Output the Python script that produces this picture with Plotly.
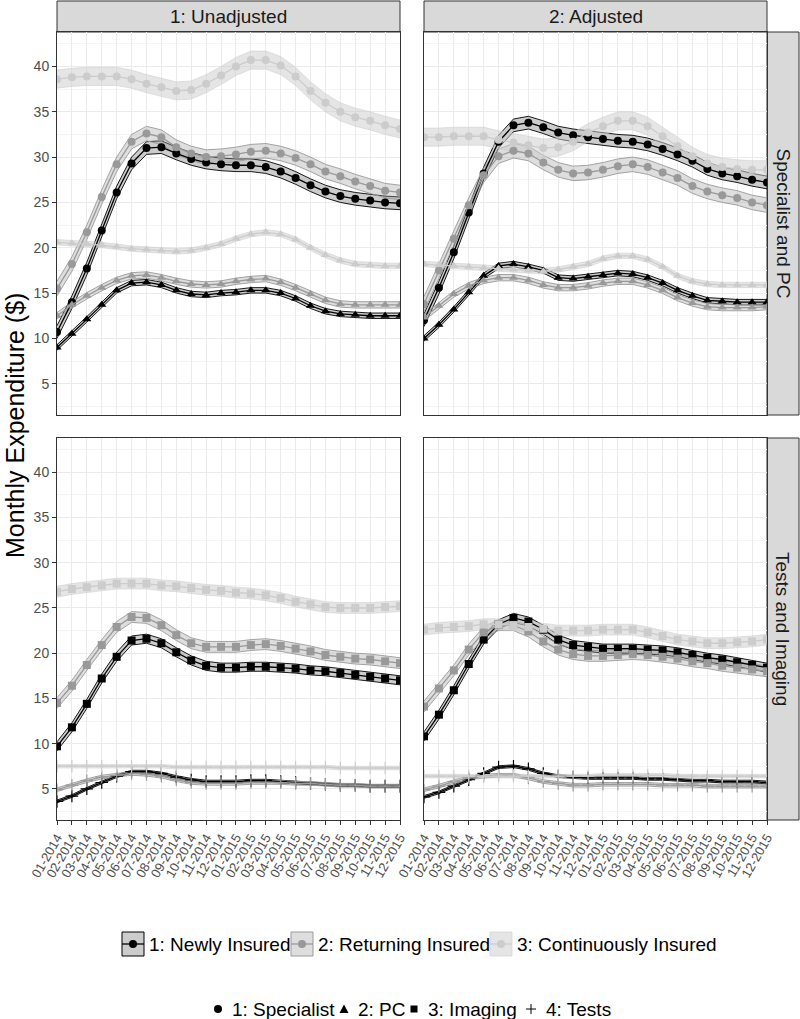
import plotly.graph_objects as go

W, H = 800, 1019

months = ["01-2014", "02-2014", "03-2014", "04-2014", "05-2014", "06-2014",
          "07-2014", "08-2014", "09-2014", "10-2014", "11-2014", "12-2014",
          "01-2015", "02-2015", "03-2015", "04-2015", "05-2015", "06-2015",
          "07-2015", "08-2015", "09-2015", "10-2015", "11-2015", "12-2015"]

groups = ["1: Newly Insured", "2: Returning Insured", "3: Continuously Insured"]
types = ["1: Specialist", "2: PC", "3: Imaging", "4: Tests"]
col_labels = ["1: Unadjusted", "2: Adjusted"]
row_labels = ["Specialist and PC", "Tests and Imaging"]

# ---------------- Unadjusted: Specialist / PC ----------------
unadj_spec_new = [10.7, 14.0, 17.7, 21.9, 26.1, 29.3, 31.0, 31.1, 30.4, 29.8, 29.4, 29.2,
                  29.1, 29.1, 28.9, 28.4, 27.7, 26.9, 26.2, 25.7, 25.4, 25.2, 25.0, 24.9]
unadj_spec_ret = [15.5, 18.2, 21.7, 25.6, 29.2, 31.7, 32.6, 32.2, 31.1, 30.4, 30.0, 30.1,
                  30.3, 30.6, 30.7, 30.4, 29.9, 29.2, 28.4, 27.9, 27.3, 26.8, 26.3, 26.1]
unadj_spec_cont = [38.6, 38.8, 38.9, 38.9, 38.9, 38.6, 38.1, 37.7, 37.3, 37.4, 38.1, 39.0,
                   40.0, 40.7, 40.7, 40.1, 38.9, 37.3, 36.0, 35.0, 34.4, 34.0, 33.5, 33.1]
unadj_pc_new = [9.0, 10.5, 12.1, 13.7, 15.3, 16.1, 16.2, 15.9, 15.3, 14.9, 14.8, 15.0,
                15.1, 15.3, 15.3, 15.0, 14.4, 13.6, 13.0, 12.7, 12.6, 12.5, 12.5, 12.5]
unadj_pc_ret = [12.5, 13.7, 14.7, 15.6, 16.4, 16.9, 17.0, 16.7, 16.3, 16.0, 15.9, 16.0,
                16.3, 16.5, 16.6, 16.2, 15.6, 14.9, 14.2, 13.8, 13.7, 13.7, 13.7, 13.7]
unadj_pc_cont = [20.6, 20.5, 20.4, 20.3, 20.1, 19.9, 19.8, 19.7, 19.6, 19.7, 20.0, 20.4,
                 21.0, 21.5, 21.7, 21.5, 20.9, 20.0, 19.2, 18.6, 18.2, 18.1, 18.0, 18.0]

# ---------------- Adjusted: Specialist / PC ----------------
adj_spec_new = [12.0, 15.6, 19.5, 23.9, 28.2, 31.7, 33.5, 33.8, 33.3, 32.7, 32.4, 32.2,
                32.0, 31.8, 31.7, 31.4, 30.9, 30.3, 29.6, 28.7, 28.2, 27.9, 27.5, 27.2]
adj_spec_ret = [13.8, 17.5, 21.0, 24.7, 28.0, 30.1, 30.7, 30.4, 29.4, 28.6, 28.2, 28.3,
                28.6, 29.0, 29.2, 28.9, 28.3, 27.7, 26.8, 26.2, 25.8, 25.5, 25.0, 24.7]
adj_spec_cont = [32.2, 32.2, 32.3, 32.3, 32.3, 31.9, 31.6, 31.3, 31.0, 31.1, 31.7, 32.7,
                 33.4, 34.0, 34.0, 33.4, 32.3, 31.2, 30.1, 29.3, 28.9, 28.7, 28.6, 28.6]
adj_pc_new = [10.0, 11.5, 13.2, 15.1, 16.9, 18.0, 18.2, 17.9, 17.5, 16.7, 16.6, 16.8,
              17.0, 17.2, 17.1, 16.7, 16.1, 15.3, 14.7, 14.2, 14.1, 14.0, 14.0, 14.0]
adj_pc_ret = [12.3, 13.6, 14.9, 15.8, 16.4, 16.7, 16.7, 16.4, 15.9, 15.6, 15.6, 15.8,
              16.1, 16.3, 16.3, 15.9, 15.3, 14.5, 13.9, 13.5, 13.4, 13.4, 13.4, 13.5]
adj_pc_cont = [18.2, 18.1, 18.0, 17.9, 17.8, 17.7, 17.6, 17.5, 17.4, 17.6, 17.9, 18.2,
               18.8, 19.1, 19.1, 18.7, 17.9, 16.9, 16.3, 16.0, 15.9, 15.9, 15.9, 15.9]

# ---------------- Unadjusted: Imaging / Tests ----------------
unadj_img_new = [9.7, 11.8, 14.4, 17.2, 19.6, 21.4, 21.6, 21.1, 20.1, 19.2, 18.6, 18.4,
                 18.4, 18.5, 18.5, 18.4, 18.3, 18.1, 18.0, 17.8, 17.6, 17.4, 17.2, 17.0]
unadj_img_ret = [14.5, 16.4, 18.7, 20.9, 22.9, 24.0, 23.9, 23.1, 22.0, 21.1, 20.7, 20.7,
                 20.7, 20.9, 21.0, 20.8, 20.5, 20.2, 19.8, 19.6, 19.4, 19.3, 19.1, 18.9]
unadj_img_cont = [26.8, 27.1, 27.3, 27.5, 27.7, 27.7, 27.7, 27.5, 27.4, 27.2, 27.0, 26.9,
                  26.7, 26.6, 26.4, 26.1, 25.7, 25.4, 25.1, 25.0, 25.0, 25.0, 25.1, 25.2]
unadj_test_new = [3.6, 4.2, 5.0, 5.7, 6.4, 6.9, 6.9, 6.7, 6.3, 6.0, 5.8, 5.8,
                  5.8, 5.9, 5.9, 5.8, 5.7, 5.6, 5.5, 5.4, 5.4, 5.3, 5.3, 5.3]
unadj_test_ret = [4.9, 5.4, 5.9, 6.3, 6.5, 6.7, 6.6, 6.4, 6.0, 5.7, 5.6, 5.6,
                  5.6, 5.7, 5.7, 5.7, 5.6, 5.6, 5.5, 5.4, 5.4, 5.3, 5.3, 5.3]
unadj_test_cont = [7.5, 7.5, 7.5, 7.5, 7.5, 7.5, 7.5, 7.5, 7.4, 7.4, 7.4, 7.4,
                   7.4, 7.4, 7.4, 7.4, 7.4, 7.4, 7.4, 7.3, 7.3, 7.3, 7.3, 7.3]

# ---------------- Adjusted: Imaging / Tests ----------------
adj_img_new = [10.8, 13.2, 15.9, 18.8, 21.5, 23.2, 23.9, 23.5, 22.6, 21.5, 20.9, 20.7,
               20.5, 20.5, 20.5, 20.4, 20.3, 20.1, 19.8, 19.5, 19.3, 19.0, 18.7, 18.4]
adj_img_ret = [14.1, 16.1, 18.1, 20.4, 22.3, 23.1, 23.1, 22.4, 21.3, 20.4, 19.9, 19.7,
               19.7, 19.8, 19.9, 19.8, 19.6, 19.4, 19.1, 18.9, 18.6, 18.4, 18.2, 18.0]
adj_img_cont = [22.6, 22.8, 22.9, 23.0, 23.2, 23.2, 23.1, 22.9, 22.7, 22.5, 22.5, 22.5,
                22.6, 22.6, 22.6, 22.3, 21.9, 21.5, 21.3, 21.1, 21.1, 21.2, 21.3, 21.5]
adj_test_new = [4.1, 4.6, 5.3, 6.0, 6.7, 7.4, 7.5, 7.2, 6.7, 6.4, 6.3, 6.2,
                6.2, 6.2, 6.2, 6.1, 6.1, 6.0, 5.9, 5.9, 5.8, 5.8, 5.8, 5.7]
adj_test_ret = [4.9, 5.3, 5.8, 6.2, 6.4, 6.5, 6.5, 6.2, 5.8, 5.6, 5.4, 5.4,
                5.5, 5.5, 5.5, 5.5, 5.4, 5.4, 5.4, 5.3, 5.3, 5.3, 5.3, 5.3]
adj_test_cont = [6.4, 6.4, 6.4, 6.4, 6.4, 6.4, 6.4, 6.4, 6.4, 6.4, 6.4, 6.4,
                 6.5, 6.5, 6.5, 6.5, 6.5, 6.4, 6.4, 6.4, 6.4, 6.4, 6.4, 6.4]

# CI half-widths (newly, returning, continuous)
ci_spec = [0.7, 0.8, 1.0]
ci_pc = [0.3, 0.35, 0.3]
ci_img = [0.5, 0.6, 0.6]
ci_test = [0.15, 0.2, 0.2]

# ---------------- styling ----------------
line_col = ["#000000", "#999999", "#cccccc"]
fill_col = ["rgba(0,0,0,0.2)", "rgba(153,153,153,0.32)", "rgba(204,204,204,0.5)"]
band_col = ["#000000", "#9a9a9a", "rgba(204,204,204,0.6)"]
symbols = {"1: Specialist": "circle", "2: PC": "triangle-up",
           "3: Imaging": "square", "4: Tests": "cross-thin"}
FONT = "Liberation Sans, Arial, sans-serif"

# pixel geometry
XL = [(57, 400), (424, 767)]
YT = [(32, 415), (438, 820)]


def px_x(x):
    return x / W


def px_y(y):
    return 1 - y / H


panels = [
    (0, 0, [("1: Specialist", [unadj_spec_new, unadj_spec_ret, unadj_spec_cont], ci_spec),
            ("2: PC", [unadj_pc_new, unadj_pc_ret, unadj_pc_cont], ci_pc)]),
    (0, 1, [("1: Specialist", [adj_spec_new, adj_spec_ret, adj_spec_cont], ci_spec),
            ("2: PC", [adj_pc_new, adj_pc_ret, adj_pc_cont], ci_pc)]),
    (1, 0, [("3: Imaging", [unadj_img_new, unadj_img_ret, unadj_img_cont], ci_img),
            ("4: Tests", [unadj_test_new, unadj_test_ret, unadj_test_cont], ci_test)]),
    (1, 1, [("3: Imaging", [adj_img_new, adj_img_ret, adj_img_cont], ci_img),
            ("4: Tests", [adj_test_new, adj_test_ret, adj_test_cont], ci_test)]),
]

fig = go.Figure()
layout_axes = {}

for idx, (r, c, series) in enumerate(panels):
    n = idx + 1
    xa = "x" if n == 1 else f"x{n}"
    ya = "y" if n == 1 else f"y{n}"
    for tname, vals, ci in series:
        for g in range(3):
            v = vals[g]
            lo = [a - ci[g] for a in v]
            hi = [a + ci[g] for a in v]
            fig.add_trace(go.Scatter(x=months, y=lo, mode="lines", xaxis=xa, yaxis=ya,
                                     line=dict(color=band_col[g], width=0.9),
                                     showlegend=False, hoverinfo="skip"))
            fig.add_trace(go.Scatter(x=months, y=hi, mode="lines", xaxis=xa, yaxis=ya,
                                     line=dict(color=band_col[g], width=0.9),
                                     fill="tonexty", fillcolor=fill_col[g],
                                     showlegend=False, hoverinfo="skip"))
    for tname, vals, ci in series:
        for g in range(3):
            sym = symbols[tname]
            msize = 8 if sym != "cross-thin" else 9
            mk = dict(symbol=sym, size=msize, color=line_col[g],
                      line=dict(color=line_col[g], width=1.2 if sym == "cross-thin" else 0))
            fig.add_trace(go.Scatter(x=months, y=vals[g], mode="lines+markers",
                                     xaxis=xa, yaxis=ya,
                                     line=dict(color=line_col[g], width=1.3),
                                     marker=mk, showlegend=False,
                                     name=f"{groups[g]} {tname}"))

    xd = [px_x(XL[c][0]), px_x(XL[c][1])]
    yd = [px_y(YT[r][1]), px_y(YT[r][0])]
    xkey = "xaxis" if n == 1 else f"xaxis{n}"
    ykey = "yaxis" if n == 1 else f"yaxis{n}"
    layout_axes[xkey] = dict(
        domain=xd, anchor=ya, type="category", categoryorder="array",
        categoryarray=months, range=[0, len(months) - 1],
        tickmode="array", tickvals=months, ticktext=months,
        automargin=False,
        showgrid=True, gridcolor="#ebebeb", gridwidth=1, zeroline=False,
        showline=True, mirror=True, linecolor="#333333", linewidth=1,
        showticklabels=(r == 1), ticks="outside" if r == 1 else "",
        ticklen=4, tickcolor="#333333", tickangle=-60,
        tickfont=dict(family=FONT, size=13, color="#4d4d4d"))
    layout_axes[ykey] = dict(
        domain=yd, anchor=xa, range=[1.55, 43.8], dtick=5, tick0=0,
        automargin=False,
        showgrid=True, gridcolor="#ebebeb", gridwidth=1, zeroline=False,
        minor=dict(dtick=2.5, tick0=0, showgrid=True, gridcolor="#f5f5f5", gridwidth=0.6),
        showline=True, mirror=True, linecolor="#333333", linewidth=1,
        showticklabels=(c == 0), ticks="outside" if c == 0 else "",
        ticklen=4, tickcolor="#333333",
        tickfont=dict(family=FONT, size=14, color="#4d4d4d"))

shapes = []
annotations = []

for c in range(2):
    shapes.append(dict(type="rect", xref="paper", yref="paper",
                       x0=px_x(XL[c][0]), x1=px_x(XL[c][1]), y0=px_y(32), y1=px_y(1),
                       fillcolor="#d9d9d9", line=dict(color="#333333", width=1), layer="below"))
    annotations.append(dict(text=col_labels[c], xref="paper", yref="paper",
                            x=px_x((XL[c][0] + XL[c][1]) / 2), y=px_y(16.5),
                            showarrow=False, xanchor="center", yanchor="middle",
                            font=dict(family=FONT, size=19, color="#1a1a1a")))
for r in range(2):
    shapes.append(dict(type="rect", xref="paper", yref="paper",
                       x0=px_x(767), x1=px_x(799), y0=px_y(YT[r][1]), y1=px_y(YT[r][0]),
                       fillcolor="#d9d9d9", line=dict(color="#333333", width=1), layer="below"))
    annotations.append(dict(text=row_labels[r], xref="paper", yref="paper",
                            x=px_x(783), y=px_y((YT[r][0] + YT[r][1]) / 2),
                            showarrow=False, textangle=90, xanchor="center", yanchor="middle",
                            font=dict(family=FONT, size=19, color="#1a1a1a")))

annotations.append(dict(text="Monthly Expenditure ($)", xref="paper", yref="paper",
                        x=px_x(15), y=px_y(426), showarrow=False, textangle=-90,
                        xanchor="center", yanchor="middle",
                        font=dict(family=FONT, size=25, color="#000000")))

# ---- legend 1: groups ----
key_x = [122, 291, 490]
ky0, ky1 = 932, 956
for g in range(3):
    x0 = key_x[g]
    x1 = x0 + 22
    shapes.append(dict(type="rect", xref="paper", yref="paper",
                       x0=px_x(x0), x1=px_x(x1), y0=px_y(ky1), y1=px_y(ky0),
                       fillcolor=fill_col[g], line=dict(color=band_col[g], width=1)))
    shapes.append(dict(type="line", xref="paper", yref="paper",
                       x0=px_x(x0), x1=px_x(x1), y0=px_y(944), y1=px_y(944),
                       line=dict(color=line_col[g], width=1.3)))
    shapes.append(dict(type="circle", xref="paper", yref="paper",
                       x0=px_x(x0 + 7), x1=px_x(x0 + 15), y0=px_y(948), y1=px_y(940),
                       fillcolor=line_col[g], line=dict(width=0)))
    annotations.append(dict(text=groups[g], xref="paper", yref="paper",
                            x=px_x(x1 + 3), y=px_y(944), showarrow=False,
                            xanchor="left", yanchor="middle",
                            font=dict(family=FONT, size=19, color="#000000")))

# ---- legend 2: types ----
ly = 1009
sym_x = [218, 344, 414, 531]
txt_x = [230, 356, 426, 544]
shapes.append(dict(type="circle", xref="paper", yref="paper",
                   x0=px_x(sym_x[0] - 4), x1=px_x(sym_x[0] + 4), y0=px_y(ly + 4), y1=px_y(ly - 4),
                   fillcolor="#000000", line=dict(width=0)))
shapes.append(dict(type="path", xref="paper", yref="paper",
                   path=f"M {px_x(sym_x[1] - 4.5)} {px_y(ly + 4)} L {px_x(sym_x[1] + 4.5)} {px_y(ly + 4)} "
                        f"L {px_x(sym_x[1])} {px_y(ly - 4.5)} Z",
                   fillcolor="#000000", line=dict(width=0)))
shapes.append(dict(type="rect", xref="paper", yref="paper",
                   x0=px_x(sym_x[2] - 3.5), x1=px_x(sym_x[2] + 3.5), y0=px_y(ly + 3.5), y1=px_y(ly - 3.5),
                   fillcolor="#000000", line=dict(width=0)))
shapes.append(dict(type="line", xref="paper", yref="paper",
                   x0=px_x(sym_x[3] - 5), x1=px_x(sym_x[3] + 5), y0=px_y(ly), y1=px_y(ly),
                   line=dict(color="#000000", width=1)))
shapes.append(dict(type="line", xref="paper", yref="paper",
                   x0=px_x(sym_x[3]), x1=px_x(sym_x[3]), y0=px_y(ly + 5), y1=px_y(ly - 5),
                   line=dict(color="#000000", width=1)))
for i, t in enumerate(types):
    annotations.append(dict(text=t, xref="paper", yref="paper",
                            x=px_x(txt_x[i]), y=px_y(ly), showarrow=False,
                            xanchor="left", yanchor="middle",
                            font=dict(family=FONT, size=19, color="#000000")))

fig.update_layout(
    width=W, height=H,
    margin=dict(l=0, r=0, t=0, b=0, pad=0, autoexpand=False),
    paper_bgcolor="#ffffff", plot_bgcolor="#ffffff",
    showlegend=False,
    font=dict(family=FONT),
    shapes=shapes, annotations=annotations,
    **layout_axes,
)

fig.write_html("out.html",
               config={"displayModeBar": False},
               post_script="document.body.style.margin='0';document.body.style.padding='0';"
                           "document.body.style.overflow='hidden';")
